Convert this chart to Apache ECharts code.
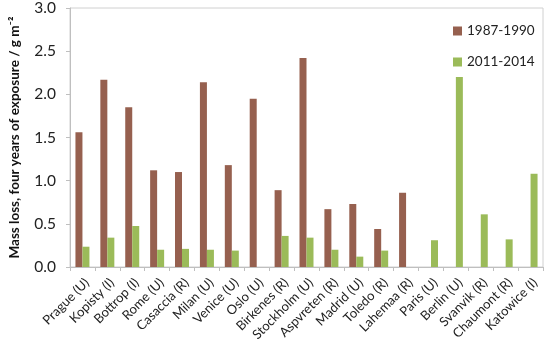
<!DOCTYPE html>
<html>
<head>
<meta charset="utf-8">
<script src="https://cdn.jsdelivr.net/npm/echarts@6/dist/echarts.min.js"></script>
<style>html,body{margin:0;padding:0;background:#fff}#c{width:550px;height:357px}</style>
</head>
<body>
<div id="c"></div>
<script>
const categories = ['Prague (U)','Kopisty (I)','Bottrop (I)','Rome (U)','Casaccia (R)','Milan (U)','Venice (U)','Oslo (U)','Birkenes (R)','Stockholm (U)','Aspvreten (R)','Madrid (U)','Toledo (R)','Lahemaa (R)','Paris (U)','Berlin (U)','Svanvik (R)','Chaumont (R)','Katowice (I)'];
const series1987 = [1.56,2.17,1.85,1.12,1.10,2.14,1.18,1.95,0.89,2.42,0.67,0.73,0.44,0.86,null,null,null,null,null];
const series2011 = [0.235,0.34,0.475,0.20,0.21,0.20,0.19,null,0.36,0.34,0.20,0.12,0.19,null,0.31,2.20,0.61,0.32,1.08];
const seriesNames = ['1987-1990','2011-2014'];
const yTicks = {min:0, max:3, interval:0.5};

const font = 'Lato, "Open Sans", sans-serif';
const chart = echarts.init(document.getElementById('c'), null, {renderer:'canvas'});
chart.setOption({
  animation:false,
  backgroundColor:'#fff',
  grid:{left:61, top:8, right:7, bottom:90, show:true, borderColor:'#d0d0d0', borderWidth:1},
  legend:{
    orient:'vertical', left:448, top:19, itemWidth:9, itemHeight:9, itemGap:17,
    icon:'rect',
    textStyle:{fontFamily:font, fontSize:13.5, color:'#222'},
    data:seriesNames
  },
  xAxis:{
    type:'category', data:categories,
    axisLine:{lineStyle:{color:'#bfbfbf'}},
    axisTick:{show:true, length:4, lineStyle:{color:'#bfbfbf'}},
    axisLabel:{rotate:45, interval:0, fontFamily:font, fontSize:13, color:'#222', margin:9, verticalAlign:'top'}
  },
  yAxis:{
    type:'value', min:yTicks.min, max:yTicks.max, interval:yTicks.interval,
    name:'Mass loss, four years of exposure / g m\u207B\u00B2',
    nameLocation:'middle', nameGap:48,
    nameTextStyle:{fontFamily:font, fontSize:13.5, fontWeight:'bold', color:'#111'},
    axisLine:{show:true, lineStyle:{color:'#bfbfbf'}},
    axisTick:{show:true, length:4, lineStyle:{color:'#bfbfbf'}},
    splitLine:{show:false},
    axisLabel:{formatter:v=>v.toFixed(1), fontFamily:font, fontSize:15.5, color:'#222', margin:14}
  },
  series:[
    {name:seriesNames[0], type:'bar', data:series1987, barWidth:7, barGap:'0%', itemStyle:{color:'#96604f'}},
    {name:seriesNames[1], type:'bar', data:series2011, barWidth:7, barGap:'0%', itemStyle:{color:'#9bbb59'}}
  ]
});
</script>
</body>
</html>
